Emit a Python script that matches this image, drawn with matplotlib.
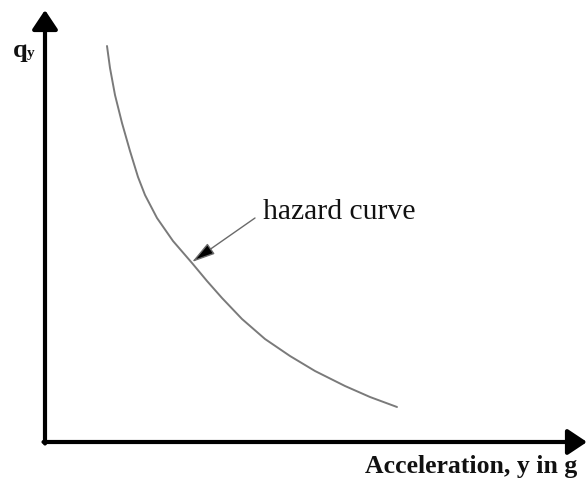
import numpy as np
from matplotlib import pyplot as plt

# hazard curve (acceleration, exceedance)
accel = [0.62, 0.65, 0.70, 0.77, 0.85, 0.93, 1.00, 1.12, 1.28, 1.47,
         1.62, 1.77, 1.97, 2.20, 2.45, 2.70, 3.00, 3.25, 3.52]
q_y = [3.96, 3.74, 3.47, 3.19, 2.91, 2.65, 2.47, 2.24, 2.01, 1.79,
       1.61, 1.44, 1.23, 1.03, 0.86, 0.71, 0.56, 0.45, 0.35]

arrow_tip = (1.47, 1.80)
arrow_tail = (2.10, 2.24)

fig = plt.figure(figsize=(5.87, 4.78), dpi=100)
ax = fig.add_axes([0, 0, 1, 1])
ax.set_xlim(-0.45, 5.42)
ax.set_ylim(-0.36, 4.42)
ax.axis('off')

serif = ['Liberation Serif', 'DejaVu Serif']

# axes drawn as arrows
ax.annotate('', xy=(5.42, 0), xytext=(-0.015, 0),
            arrowprops=dict(arrowstyle='-|>,head_length=0.45,head_width=0.3',
                            lw=3, color='black', mutation_scale=26,
                            shrinkA=0, shrinkB=0))
ax.annotate('', xy=(0, 4.32), xytext=(0, -0.015),
            arrowprops=dict(arrowstyle='-|>,head_length=0.45,head_width=0.3',
                            lw=3, color='black', mutation_scale=26,
                            shrinkA=0, shrinkB=0))

# the curve
ax.plot(accel, q_y, color='#7a7a7a', lw=1.4, solid_capstyle='round',
        solid_joinstyle='round', antialiased=True)

# label with pointer
ax.annotate('', xy=arrow_tip, xytext=arrow_tail,
            arrowprops=dict(arrowstyle='-|>,head_length=0.8,head_width=0.22',
                            lw=1.0, color='#6a6a6a', fc='black',
                            mutation_scale=18, shrinkA=0, shrinkB=0))
ax.text(2.18, 2.30, 'hazard curve', family=serif, fontsize=21.3,
        va='center', ha='left', color='#111111')

ax.text(-0.32, 3.92, 'q', family=serif, fontsize=19, fontweight='bold',
        va='center', ha='left', color='#111111')
ax.text(-0.185, 3.88, 'y', family=serif, fontsize=11, fontweight='bold',
        va='center', ha='left', color='#111111')

ax.text(5.32, -0.245, 'Acceleration, y in g', family=serif, fontsize=18.5,
        fontweight='bold', va='center', ha='right', color='#111111')

fig.savefig('out.png', dpi=100)
